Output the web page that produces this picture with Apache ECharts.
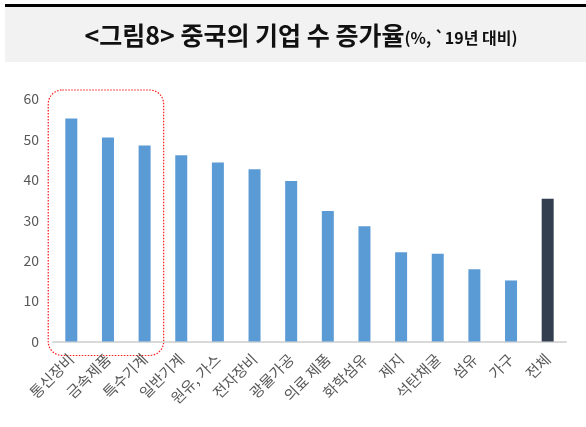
<!DOCTYPE html>
<html>
<head>
<meta charset="utf-8">
<script src="https://cdn.jsdelivr.net/npm/echarts@6/dist/echarts.min.js"></script>
<style>
  html, body { margin: 0; padding: 0; background: #ffffff; }
  #chart { width: 586px; height: 427px; }
</style>
</head>
<body>
<div id="chart"></div>
<script>
// Industry categories (China, growth in number of enterprises vs 2019, %)
const categories = ['통신장비', '금속제품', '특수기계', '일반기계', '원유, 가스', '전자장비', '광물가공', '의료 제품', '화학섬유', '제지', '석탄채굴', '섬유', '가구', '전체'];
const growthRates = [55.2, 50.5, 48.5, 46.1, 44.3, 42.6, 39.7, 32.3, 28.5, 22.1, 21.7, 17.9, 15.1, 35.3];
const yTicks = [0, 10, 20, 30, 40, 50, 60];
// Categories highlighted by the dotted frame
const highlighted = ['통신장비', '금속제품', '특수기계'];

const chart = echarts.init(document.getElementById('chart'));

const FONT = '"Noto Sans CJK KR", "Noto Sans", sans-serif';

const option = {
  animation: false,
  backgroundColor: '#ffffff',
  grid: { left: 53, right: 20, top: 99, bottom: 85.5, containLabel: false },
  xAxis: {
    type: 'category',
    data: categories,
    axisLine: { show: true, lineStyle: { color: '#d9d9d9', width: 2 } },
    axisTick: { show: false },
    axisLabel: {
      interval: 0,
      rotate: 45,
      color: '#595959',
      fontSize: 15,
      fontFamily: FONT,
      margin: 15,
      padding: [0, 0, 0, 0]
    }
  },
  yAxis: {
    type: 'value',
    min: yTicks[0],
    max: yTicks[yTicks.length - 1],
    interval: yTicks[1] - yTicks[0],
    axisLine: { show: false },
    axisTick: { show: false },
    splitLine: { show: false },
    axisLabel: { color: '#595959', fontSize: 14, fontFamily: FONT, margin: 14 }
  },
  series: [{
    type: 'bar',
    barWidth: 12,
    data: growthRates.map((v, i) => ({
      value: v,
      itemStyle: { color: categories[i] === '전체' ? '#333f50' : '#5b9bd5' }
    }))
  }]
};

chart.setOption(option);

// Title banner and dotted highlight frame, placed after the axes are laid out
const first = categories.indexOf(highlighted[0]);
const last = categories.indexOf(highlighted[highlighted.length - 1]);
const xFirst = chart.convertToPixel({ xAxisIndex: 0 }, first);
const xLast = chart.convertToPixel({ xAxisIndex: 0 }, last);
const band = chart.convertToPixel({ xAxisIndex: 0 }, 1) - chart.convertToPixel({ xAxisIndex: 0 }, 0);
const yTop = chart.convertToPixel({ yAxisIndex: 0 }, yTicks[yTicks.length - 1]);
const yBase = chart.convertToPixel({ yAxisIndex: 0 }, 0);

chart.setOption({
  graphic: [
    {
      type: 'rect',
      shape: { x: 5, y: 7, width: 581, height: 55 },
      style: { fill: '#f2f2f2' },
      silent: true
    },
    {
      type: 'rect',
      shape: { x: 5, y: 4, width: 581, height: 3 },
      style: { fill: '#000000' },
      silent: true
    },
    {
      type: 'text',
      x: 301,
      y: 35,
      style: {
        text: '{m|<그림8> 중국의 기업 수 증가율}{s|(%, `19년 대비)}',
        align: 'center',
        verticalAlign: 'middle',
        rich: {
          m: { fontSize: 25, fontFamily: FONT, fill: '#111111', fontWeight: 'bold' },
          s: { fontSize: 16, fontFamily: FONT, fill: '#111111', fontWeight: 'bold', padding: [6, 0, 0, 0] }
        }
      },
      silent: true
    },
    {
      type: 'rect',
      shape: {
        x: xFirst - band * 0.63,
        y: yTop - 9,
        width: (xLast + band * 0.52) - (xFirst - band * 0.63),
        height: (yBase + 14) - (yTop - 9),
        r: 14
      },
      style: { fill: 'none', stroke: '#ff1a1a', lineWidth: 1.2, lineDash: [1.5, 1.5] },
      silent: true
    }
  ]
});
</script>
</body>
</html>
